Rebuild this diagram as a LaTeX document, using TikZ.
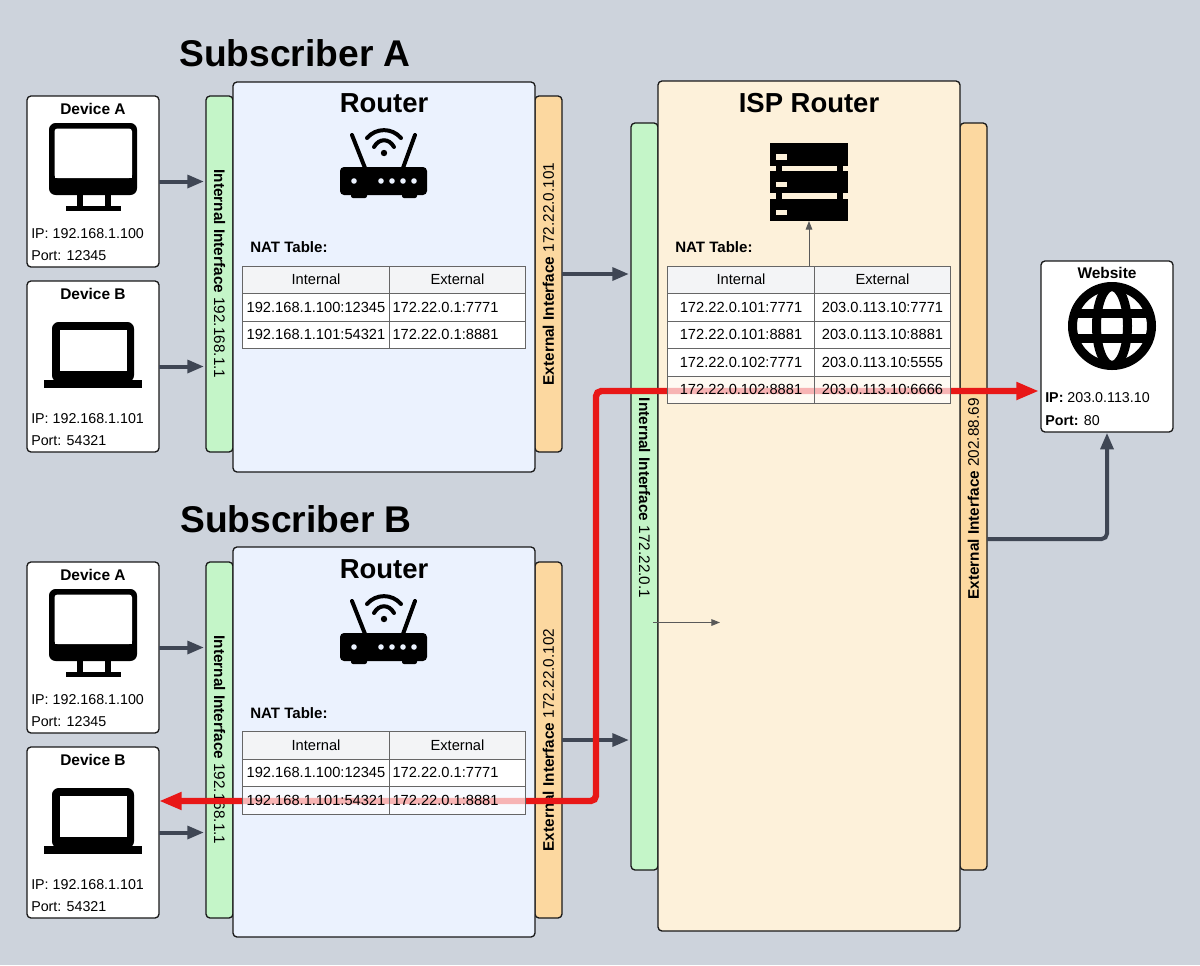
\documentclass[tikz,border=0pt]{standalone}
\usepackage{fontspec}
\setmainfont{Liberation Sans}
\usetikzlibrary{arrows.meta}
\definecolor{canvas}{HTML}{CDD3DC}
\definecolor{routerfill}{HTML}{EBF2FE}
\definecolor{ispfill}{HTML}{FDF1DA}
\definecolor{intfill}{HTML}{C4F5C8}
\definecolor{extfill}{HTML}{FCD8A0}
\definecolor{headfill}{HTML}{F3F4F6}
\definecolor{linkgray}{HTML}{3F4654}
\definecolor{redlink}{HTML}{E81717}
\begin{document}
\begin{tikzpicture}[x=0.75pt,y=-0.75pt,
panel/.style ={rectangle, draw=black!90, line width=1pt, rounded corners=3pt,
  outer sep=0pt, minimum width=226.5pt
},
routerbox/.style ={panel, fill=routerfill, minimum height=292.5pt},
ispbox/.style ={panel, fill=ispfill, minimum height=637.5pt},
devicebox/.style ={panel, fill=white, minimum width=99pt, minimum height=128.25pt},
band/.style ={panel, minimum width=20.25pt},
intband/.style ={band, fill=intfill},
extband/.style ={band, fill=extfill},
routerband/.style ={minimum height=267pt},
ispband/.style ={minimum height=560.25pt},
bandtext/.style ={font=\fontsize{11.5pt}{14pt}\selectfont},
title/.style ={font=\bfseries\fontsize{27.9pt}{32pt}\selectfont, anchor=west, inner sep=0pt},
boxtitle/.style ={font=\bfseries\fontsize{20.6pt}{24pt}\selectfont},
devtitle/.style ={font=\bfseries\fontsize{11.6pt}{14pt}\selectfont},
devtext/.style ={font=\fontsize{10.7pt}{13pt}\selectfont, anchor=west, inner sep=0pt, yshift=-0.4pt},
nattitle/.style ={font=\bfseries\fontsize{11.3pt}{14pt}\selectfont, anchor=west, inner sep=0pt},
cell/.style ={rectangle, draw=black!60, line width=0.6pt, fill=white, inner sep=0pt,
  outer sep=0pt, minimum height=20.6pt, minimum width=110.25pt,
  font=\fontsize{11pt}{13pt}\selectfont, text height=8pt, text depth=0.3pt
},
cellb/.style ={cell, minimum width=102pt},
cellleft/.style ={cellb, inner xsep=2.25pt, text width=97.5pt, align=left},
headcell/.style ={cell, fill=headfill},
headcellb/.style ={cellb, fill=headfill},
redcell/.style ={fill opacity=0.68, text opacity=1, draw opacity=1},
link/.style ={draw=linkgray, line width=3pt, -{Triangle[length=12.5pt,width=9.5pt]},
  shorten >=1.5pt
},
redpath/.style ={draw=redlink, line width=4.8pt, rounded corners=4pt,
  {Triangle[length=17pt,width=12.5pt]}-{Triangle[length=17pt,width=12.5pt]},
  shorten >=1.5pt
},
thinlink/.style ={draw=black!65, line width=0.7pt, -{Triangle[length=6.5pt,width=5pt]}},
monitoricon/.pic={
  \fill[black, rounded corners=5pt] (-44,-44) rectangle (44,28);
  \fill[white, rounded corners=2.2pt] (-38.5,-38.5) rectangle (39,11);
  \fill[white] (-38.5,0) rectangle (39,11);
  \fill[black] (-16,28) rectangle (-10.5,40);
  \fill[black] (12,28) rectangle (17.5,40);
  \fill[black] (-27,39) rectangle (28,44);
},
laptopicon/.pic={
  \fill[black, rounded corners=5pt] (-41,-33) rectangle (41,27);
  \fill[white] (-33,-25) rectangle (34,16);
  \fill[black] (-49,25) rectangle (49,33);
},
routericon/.pic={
  \fill[black, rounded corners=3pt] (-44,1) rectangle (43,29);
  \fill[black, rounded corners=1.5pt] (-33,25) rectangle (-17,32);
  \fill[black, rounded corners=1.5pt] (18,25) rectangle (33,32);
  \draw[black, line width=3pt, line cap=round] (-32,-31) -- (-19,2);
  \draw[black, line width=3pt, line cap=round] (31,-31) -- (19,2);
  \draw[black, line width=3pt, line cap=round] (-17,-28) .. controls (-8,-38.5) and (8,-38.5) .. (17,-28);
  \draw[black, line width=3pt, line cap=round] (-10,-19) .. controls (-5,-28) and (5,-28) .. (10,-19);
  \fill[black] (0,-13) circle [radius=3.2];
  \fill[routerfill] (-30,15) circle [radius=2.8];
  \fill[routerfill] (-3,15) circle [radius=2.8];
  \fill[routerfill] (8,15) circle [radius=2.8];
  \fill[routerfill] (19,15) circle [radius=2.8];
  \fill[routerfill] (30,15) circle [radius=2.8];
},
servericon/.pic={
  \fill[black] (-39,-39) rectangle (39,-16.3);
  \fill[black] (-39,-11) rectangle (39,11.3);
  \fill[black] (-39,16.7) rectangle (39,39);
  \fill[black] (-33,-17) rectangle (-27,17);
  \fill[black] (28,-17) rectangle (34,17);
  \fill[ispfill] (-33,-27.7) rectangle (-22,-22.3);
  \fill[ispfill] (-33,0) rectangle (-22,5);
  \fill[ispfill] (-33,27.7) rectangle (-22,33);
},
globeicon/.pic={
  \draw[black, line width=6.75pt] (0,0) circle [radius=39.5];
  \begin{scope}
  \clip (0,0) circle [radius=40];
  \draw[black, line width=6.75pt] (0,0) ellipse [x radius=15.5, y radius=39.5];
  \draw[black, line width=6.2pt] (-40,-12.5) -- (40,-12.5);
  \draw[black, line width=6.2pt] (-40,12.5) -- (40,12.5);
  \end{scope}
}]
\fill[canvas] (0,0) rectangle (1200,965);

\node (subA) at (179,53) [title] {Subscriber A};
\node (subB) at (180,519) [title] {Subscriber B};

\node (intA) at (219.5,274) [intband,routerband] {};
\node (extA) at (548.5,274) [extband,routerband] {};
\node (intB) at (219.5,740) [intband,routerband] {};
\node (extB) at (548.5,740) [extband,routerband] {};
\node (intC) at (644.5,496.5) [intband,ispband] {};
\node (extC) at (973.5,496.5) [extband,ispband] {};

\node (intAtext) at (219.5,274) [bandtext,rotate=-90] {\textbf{Internal Interface} 192.168.1.1};
\node (extAtext) at (548.5,274) [bandtext,rotate=90] {\textbf{External Interface} 172.22.0.101};
\node (intBtext) at (219.5,740) [bandtext,rotate=-90] {\textbf{Internal Interface} 192.168.1.1};
\node (extBtext) at (548.5,740) [bandtext,rotate=90] {\textbf{External Interface} 172.22.0.102};
\node (intCtext) at (644.5,498) [bandtext,rotate=-90] {\textbf{Internal Interface} 172.22.0.1};
\node (extCtext) at (973.5,499) [bandtext,rotate=90] {\textbf{External Interface} 202.88.69};

\node (routerA) at (384,277) [routerbox] {};
\node (routerB) at (384,742) [routerbox] {};
\node (isp) at (809,506) [ispbox] {};

\node (routerAtitle) at (384,103) [boxtitle] {Router};
\node (routerBtitle) at (384,569) [boxtitle] {Router};
\node (isptitle) at (809,103) [boxtitle] {ISP Router};

\pic (routerAicon) at (384,166) {routericon};
\pic (routerBicon) at (384,632) {routericon};
\pic (servericon) at (809,182) {servericon};

\node (devAa) at (93,181.5) [devicebox] {};
\node (devAb) at (93,366.5) [devicebox] {};
\node (devBa) at (93,647.5) [devicebox] {};
\node (devBb) at (93,832.5) [devicebox] {};
\node (web) at (1107,346.5) [devicebox] {};

\node (devAatitle) at (93,109) [devtitle] {Device A};
\node (devAbtitle) at (93,294) [devtitle] {Device B};
\node (devBatitle) at (93,575) [devtitle] {Device A};
\node (devBbtitle) at (93,760) [devtitle] {Device B};
\node (webtitle) at (1107,273) [devtitle] {Website};

\pic (devAaicon) at (93,167) {monitoricon};
\pic (devAbicon) at (93,355) {laptopicon};
\pic (devBaicon) at (93,633) {monitoricon};
\pic (devBbicon) at (93,821) {laptopicon};
\pic (webicon) at (1112,326) {globeicon};

\node (devAaip) at (31,233) [devtext] {IP: 192.168.1.100};
\node (devAaport) at (31,255) [devtext] {Port: 12345};
\node (devAbip) at (31,418) [devtext] {IP: 192.168.1.101};
\node (devAbport) at (31,440) [devtext] {Port: 54321};
\node (devBaip) at (31,699) [devtext] {IP: 192.168.1.100};
\node (devBaport) at (31,721) [devtext] {Port: 12345};
\node (devBbip) at (31,884) [devtext] {IP: 192.168.1.101};
\node (devBbport) at (31,906) [devtext] {Port: 54321};
\node (webip) at (1045,397) [devtext] {\textbf{IP:} 203.0.113.10};
\node (webport) at (1045,420) [devtext] {\textbf{Port:} 80};

\coordinate (lowturn) at (596,801);
\coordinate (highturn) at (596,391);
\coordinate (webturn) at (1107,539);
\coordinate (serverfoot) at (809,221);
\coordinate (straystart) at (653,622.5);
\coordinate (strayend) at (720,622.5);

\draw[link] (devAa.east) -- (intA.west |- devAa.east);
\draw[link] (devAb.east) -- (intA.west |- devAb.east);
\draw[link] (devBa.east) -- (intB.west |- devBa.east);
\draw[link] (devBb.east) -- (intB.west |- devBb.east);
\draw[link] (extA.east) -- (intC.west |- extA.east);
\draw[link] (extB.east) -- (intC.west |- extB.east);
\draw[link,rounded corners=4pt,shorten >=0.5pt] (extC.east |- webturn) -- (webturn) -- (web.south);
\draw[thinlink] (straystart) -- (strayend);

\draw[redpath] (devBb.east |- lowturn) -- (lowturn) -- (highturn) -- (web.west |- highturn);

\node (natA) at (250,247) [nattitle] {NAT Table:};
\node (natB) at (250,713) [nattitle] {NAT Table:};
\node (natC) at (675,247) [nattitle] {NAT Table:};

\node (a11) at (316,279.75) [headcell] {Internal};
\node (a12) at (457.5,279.75) [headcellb] {External};
\node (a21) at (316,307.25) [cell] {192.168.1.100:12345};
\node (a22) at (457.5,307.25) [cellleft] {172.22.0.1:7771};
\node (a31) at (316,334.75) [cell] {192.168.1.101:54321};
\node (a32) at (457.5,334.75) [cellleft] {172.22.0.1:8881};

\node (b11) at (316,745.25) [headcell] {Internal};
\node (b12) at (457.5,745.25) [headcellb] {External};
\node (b21) at (316,772.75) [cell] {192.168.1.100:12345};
\node (b22) at (457.5,772.75) [cellleft] {172.22.0.1:7771};
\node (b31) at (316,800.25) [cell,redcell] {192.168.1.101:54321};
\node (b32) at (457.5,800.25) [cellleft,redcell] {172.22.0.1:8881};

\node (c11) at (741,279.75) [headcell] {Internal};
\node (c12) at (882.5,279.75) [headcellb] {External};
\node (c21) at (741,307.25) [cell] {172.22.0.101:7771};
\node (c22) at (882.5,307.25) [cellb] {203.0.113.10:7771};
\node (c31) at (741,334.75) [cell] {172.22.0.101:8881};
\node (c32) at (882.5,334.75) [cellb] {203.0.113.10:8881};
\node (c41) at (741,362.25) [cell] {172.22.0.102:7771};
\node (c42) at (882.5,362.25) [cellb] {203.0.113.10:5555};
\node (c51) at (741,389.75) [cell,redcell] {172.22.0.102:8881};
\node (c52) at (882.5,389.75) [cellb,redcell] {203.0.113.10:6666};

\draw[thinlink] (serverfoot |- c11.north) -- (serverfoot);

\end{tikzpicture}
\end{document}
